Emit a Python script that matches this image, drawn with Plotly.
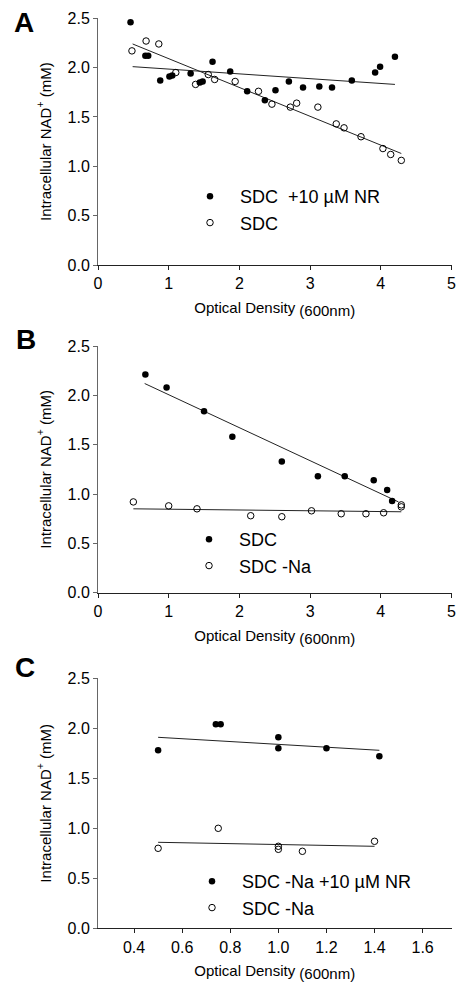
import plotly.graph_objects as go

# ---- panel A : SDC +/- 10 uM NR ----
a_nr_x = [0.46, 0.67, 0.71, 0.88, 1.01, 1.05, 1.31, 1.44, 1.48, 1.62, 1.87, 2.11, 2.36, 2.51, 2.70, 2.90, 3.13, 3.31, 3.59, 3.92, 3.99, 4.20]
a_nr_y = [2.46, 2.12, 2.12, 1.87, 1.91, 1.92, 1.94, 1.85, 1.86, 2.06, 1.96, 1.76, 1.67, 1.77, 1.86, 1.80, 1.81, 1.80, 1.87, 1.95, 2.01, 2.11]
a_sdc_x = [0.48, 0.68, 0.86, 1.10, 1.38, 1.56, 1.65, 1.94, 2.27, 2.46, 2.72, 2.81, 3.11, 3.37, 3.48, 3.72, 4.03, 4.14, 4.29]
a_sdc_y = [2.17, 2.27, 2.24, 1.95, 1.83, 1.93, 1.88, 1.86, 1.76, 1.63, 1.60, 1.64, 1.60, 1.43, 1.39, 1.30, 1.18, 1.12, 1.06]
a_nr_fit_x = [0.49, 4.20]
a_nr_fit_y = [2.01, 1.83]
a_sdc_fit_x = [0.49, 4.29]
a_sdc_fit_y = [2.24, 1.13]

# ---- panel B : SDC vs SDC -Na ----
b_sdc_x = [0.67, 0.97, 1.50, 1.90, 2.60, 3.11, 3.49, 3.90, 4.09, 4.16]
b_sdc_y = [2.21, 2.08, 1.84, 1.58, 1.33, 1.18, 1.18, 1.14, 1.04, 0.93]
b_na_x = [0.50, 1.00, 1.40, 2.16, 2.60, 3.02, 3.44, 3.79, 4.04, 4.29, 4.29]
b_na_y = [0.92, 0.88, 0.85, 0.78, 0.77, 0.83, 0.80, 0.80, 0.81, 0.89, 0.87]
b_sdc_fit_x = [0.66, 4.25]
b_sdc_fit_y = [2.12, 0.92]
b_na_fit_x = [0.50, 4.29]
b_na_fit_y = [0.85, 0.82]

# ---- panel C : SDC -Na +/- 10 uM NR ----
c_nr_x = [0.50, 0.74, 0.76, 1.00, 1.00, 1.20, 1.42]
c_nr_y = [1.78, 2.04, 2.04, 1.91, 1.80, 1.80, 1.72]
c_na_x = [0.50, 0.75, 1.00, 1.00, 1.10, 1.40]
c_na_y = [0.80, 1.00, 0.82, 0.79, 0.77, 0.87]
c_nr_fit_x = [0.50, 1.42]
c_nr_fit_y = [1.91, 1.78]
c_na_fit_x = [0.50, 1.40]
c_na_fit_y = [0.86, 0.82]

y_ticks = [0.0, 0.5, 1.0, 1.5, 2.0, 2.5]
ab_x_ticks = [0, 1, 2, 3, 4, 5]
c_x_ticks = [0.4, 0.6, 0.8, 1.0, 1.2, 1.4, 1.6]

FONT = "Liberation Sans, Arial, sans-serif"
NB = "\u00a0"

fig = go.Figure()

filled = dict(symbol="circle", size=6.5, color="black")
hollow = dict(symbol="circle-open", size=6.5, color="black", line=dict(width=1))
fitline = dict(color="#222", width=1)


def panel(n, legend, xs_f, ys_f, name_f, xs_o, ys_o, name_o, fits):
    xa = "x" if n == 1 else "x%d" % n
    ya = "y" if n == 1 else "y%d" % n
    for fx, fy in fits:
        fig.add_trace(go.Scatter(x=fx, y=fy, mode="lines", line=fitline,
                                 showlegend=False, xaxis=xa, yaxis=ya))
    fig.add_trace(go.Scatter(x=xs_f, y=ys_f, mode="markers", marker=filled, name=name_f,
                             legend=legend, xaxis=xa, yaxis=ya))
    fig.add_trace(go.Scatter(x=xs_o, y=ys_o, mode="markers", marker=hollow, name=name_o,
                             legend=legend, xaxis=xa, yaxis=ya))


panel(1, "legend", a_nr_x, a_nr_y, "SDC" + NB + NB + "+10 \u00b5M NR", a_sdc_x, a_sdc_y, "SDC",
      [(a_nr_fit_x, a_nr_fit_y), (a_sdc_fit_x, a_sdc_fit_y)])
panel(2, "legend2", b_sdc_x, b_sdc_y, "SDC", b_na_x, b_na_y, "SDC -Na",
      [(b_sdc_fit_x, b_sdc_fit_y), (b_na_fit_x, b_na_fit_y)])
panel(3, "legend3", c_nr_x, c_nr_y, "SDC -Na +10 \u00b5M NR", c_na_x, c_na_y, "SDC -Na",
      [(c_nr_fit_x, c_nr_fit_y), (c_na_fit_x, c_na_fit_y)])

W, H = 457, 982
xdom = [98 / W, 451.5 / W]
ydoms = [[1 - 265 / H, 1 - 18.3 / H], [1 - 592.7 / H, 1 - 346 / H], [1 - 928.3 / H, 1 - 678.3 / H]]

xtitle = "Optical Density <sub><span style='font-size:15px'>(600nm)</span></sub>"
ytitle = "Intracellular NAD<sup>+</sup> (mM)"

axis_common = dict(showgrid=False, zeroline=False, showline=True, ticks="outside", ticklen=4,
                   tickwidth=1, automargin=False,
                   tickfont=dict(family=FONT, size=16, color="black"))

layout = dict(width=W, height=H, margin=dict(l=0, r=0, t=0, b=0, autoexpand=False),
              paper_bgcolor="white", plot_bgcolor="white",
              font=dict(family=FONT, color="black"))

for i in range(3):
    sx = "" if i == 0 else str(i + 1)
    xa = dict(axis_common, domain=xdom, anchor="y" + sx, linecolor="#222", tickcolor="#222",
              title=dict(text=xtitle, font=dict(family=FONT, size=15), standoff=11))
    if i < 2:
        xa.update(range=[0, 5], tickvals=ab_x_ticks)
    else:
        xa.update(range=[0.25, 1.72], tickvals=c_x_ticks, tickformat=".1f")
    ya = dict(axis_common, domain=ydoms[i], anchor="x" + sx, range=[0, 2.5], tickvals=y_ticks,
              tickformat=".1f", linecolor="#666", tickcolor="#666",
              title=dict(text=ytitle, font=dict(family=FONT, size=15), standoff=12))
    layout["xaxis" + sx] = xa
    layout["yaxis" + sx] = ya

leg_pos = [(180, 178), (179, 521), (182, 863)]
for i, (lx, ly) in enumerate(leg_pos):
    key = "legend" if i == 0 else "legend%d" % (i + 1)
    layout[key] = dict(x=lx / W, y=1 - ly / H, xanchor="left", yanchor="top",
                       bgcolor="rgba(0,0,0,0)", itemwidth=50, tracegroupgap=0,
                       font=dict(family=FONT, size=18, color="black"))

fig.update_layout(**layout)

for letter, px, py in [("A", 24, 23), ("B", 26, 339), ("C", 25, 667)]:
    fig.add_annotation(text="<b>%s</b>" % letter, x=px / W, y=1 - py / H, xref="paper", yref="paper",
                       showarrow=False, xanchor="center", yanchor="middle",
                       font=dict(family=FONT, size=28, color="black"))

# drop the default 8px body margin so the figure sits at the page origin
fig.write_html("out.html", config={"displayModeBar": False},
               post_script="document.body.style.margin='0';")
